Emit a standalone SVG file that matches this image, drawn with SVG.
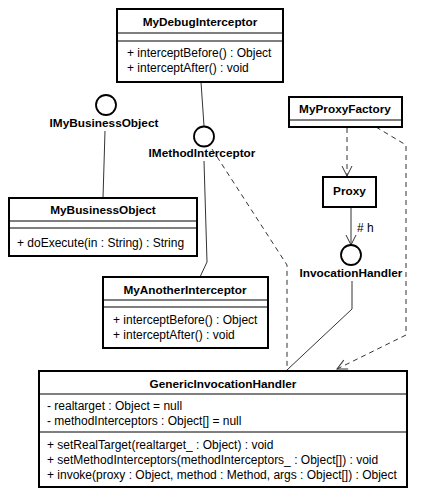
<svg xmlns="http://www.w3.org/2000/svg" width="422" height="499" viewBox="0 0 422 499">
<style>
.box{fill:#fff;stroke:#000;stroke-width:2}
.div{stroke:#000;stroke-width:1.2;fill:none}
.t{font-family:"Liberation Sans",Arial,sans-serif;font-size:12px;fill:#000}
.b{font-weight:bold;text-anchor:middle;font-size:11.8px}
.c{fill:none;stroke:#333;stroke-width:1}
.d{fill:none;stroke:#333;stroke-width:1;stroke-dasharray:5,4}
.ic{fill:#fff;stroke:#000;stroke-width:1.8}
</style>
<defs>
<marker id="open" viewBox="0 0 12 12" refX="11" refY="6" markerWidth="12" markerHeight="12" markerUnits="userSpaceOnUse" orient="auto">
<path d="M1,1 L11,6 L1,11" fill="none" stroke="#333" stroke-width="1"/>
</marker>
</defs>
<g id="connectors">
<path class="c" d="M201,82 L204,126"/>
<path class="c" d="M105,131 L103,198"/>
<path class="c" d="M204,161 L207,262 L200,277"/>
<path class="d" d="M212,149 L287,265 L287,370"/>
<path class="d" d="M347,128 L347,176" marker-end="url(#open)"/>
<path class="c" d="M351,207 L351,245" marker-end="url(#open)"/>
<path class="d" d="M376,127 L406,145 L406,335 L337,369" marker-end="url(#open)"/>
<path class="c" d="M352,281 L352,309 L287,370"/>
<text class="t" x="357" y="232"># h</text>
</g>
<g id="MyDebugInterceptor">
<rect class="box" x="117" y="9" width="166" height="73"/>
<line class="div" x1="117" y1="33" x2="283" y2="33"/>
<line class="div" x1="117" y1="41" x2="283" y2="41"/>
<text class="t b" x="200" y="26">MyDebugInterceptor</text>
<text class="t" x="127" y="57">+ interceptBefore() : Object</text>
<text class="t" x="127" y="72">+ interceptAfter() : void</text>
</g>
<g id="IMyBusinessObject">
<circle class="ic" cx="106" cy="105" r="10"/>
<text class="t b" x="104" y="127">IMyBusinessObject</text>
</g>
<g id="IMethodInterceptor">
<circle class="ic" cx="204" cy="136.5" r="10"/>
<text class="t b" x="202" y="157">IMethodInterceptor</text>
</g>
<g id="MyBusinessObject">
<rect class="box" x="9" y="198" width="188" height="58"/>
<line class="div" x1="9" y1="221" x2="197" y2="221"/>
<line class="div" x1="9" y1="228" x2="197" y2="228"/>
<text class="t b" x="103" y="214">MyBusinessObject</text>
<text class="t" x="17" y="247">+ doExecute(in : String) : String</text>
</g>
<g id="MyAnotherInterceptor">
<rect class="box" x="103" y="277" width="165" height="71"/>
<line class="div" x1="103" y1="300" x2="268" y2="300"/>
<line class="div" x1="103" y1="307" x2="268" y2="307"/>
<text class="t b" x="185" y="294">MyAnotherInterceptor</text>
<text class="t" x="113" y="324">+ interceptBefore() : Object</text>
<text class="t" x="113" y="339">+ interceptAfter() : void</text>
</g>
<g id="MyProxyFactory">
<rect class="box" x="289" y="97" width="113" height="30"/>
<line class="div" x1="289" y1="120" x2="402" y2="120"/>
<text class="t b" x="345" y="113">MyProxyFactory</text>
</g>
<g id="Proxy">
<rect class="box" x="323" y="177" width="53" height="30"/>
<text class="t b" x="349.5" y="195">Proxy</text>
</g>
<g id="InvocationHandler">
<circle class="ic" cx="351" cy="255" r="10"/>
<text class="t b" x="351" y="277">InvocationHandler</text>
</g>
<g id="GenericInvocationHandler">
<rect class="box" x="39" y="371" width="368" height="116"/>
<line class="div" x1="39" y1="394" x2="407" y2="394"/>
<line class="div" x1="39" y1="432" x2="407" y2="432"/>
<text class="t b" x="223" y="388">GenericInvocationHandler</text>
<text class="t" x="47" y="410">- realtarget : Object = null</text>
<text class="t" x="47" y="425">- methodInterceptors : Object[] = null</text>
<text class="t" x="47" y="449">+ setRealTarget(realtarget_ : Object) : void</text>
<text class="t" x="47" y="464">+ setMethodInterceptors(methodInterceptors_ : Object[]) : void</text>
<text class="t" x="47" y="479">+ invoke(proxy : Object, method : Method, args : Object[]) : Object</text>
</g>
</svg>
